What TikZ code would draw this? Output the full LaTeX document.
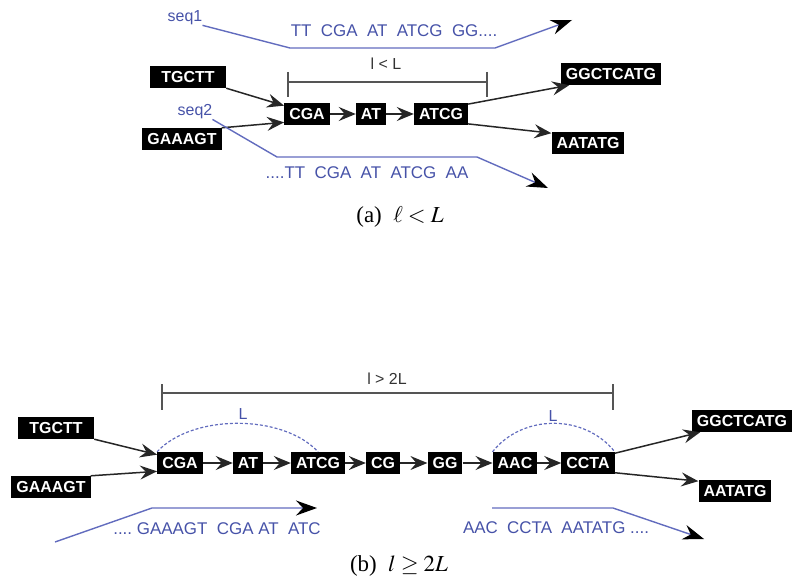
\documentclass[tikz,border=0pt]{standalone}
\usepackage{mathptmx}
\usepackage[no-math]{fontspec}
\setmainfont{Liberation Serif}
\newfontfamily\arialfont{Liberation Sans}
\usetikzlibrary{arrows.meta,calc}
\definecolor{seqtext}{RGB}{70,82,168}
\definecolor{seqline}{RGB}{98,108,190}
\definecolor{bracketgray}{RGB}{85,85,85}
\tikzset{
  kmer/.style={fill=black,text=white,font=\arialfont\bfseries\fontsize{16}{16}\selectfont,
    inner xsep=5bp,inner ysep=0pt,minimum height=22bp},
  link/.style={draw=black!85,line width=1.5bp,-{Stealth[length=17bp,width=14bp,inset=6bp]}},
  readline/.style={draw=seqline,line width=1.4bp,-{Stealth[length=21bp,width=15bp,inset=7bp,color=black]}},
  readtext/.style={text=seqtext,font=\arialfont\fontsize{17}{17}\selectfont,inner sep=0pt},
  seqlabel/.style={text=seqtext,font=\arialfont\fontsize{16}{16}\selectfont,inner sep=0pt},
  span/.style={draw=bracketgray,line width=1.5bp},
  spantext/.style={text=black!80,font=\arialfont\fontsize{16}{16}\selectfont,inner sep=0pt},
  kspan/.style={draw=seqline,line width=1.2bp,dash pattern=on 3bp off 2bp},
  klabel/.style={text=seqtext,font=\arialfont\fontsize{16}{16}\selectfont,inner sep=0pt},
  caption/.style={font=\fontsize{23}{23}\selectfont,inner sep=0pt},
}
\begin{document}
\begin{tikzpicture}[x=1bp,y=-1bp]
\useasboundingbox (0,0) rectangle (793,587);

% ---------- (a) path shorter than the read length ----------
\node[kmer,minimum width=76bp] (tg1) at (188,77) {TGCTT};
\node[kmer] (ga1) at (182,139) {GAAAGT};
\node[kmer] (cga1) at (307,114) {CGA};
\node[kmer] (at1) at (371,114) {AT};
\node[kmer] (atcg1) at (441,114) {ATCG};
\node[kmer] (gg1) at (611,74) {GGCTCATG};
\node[kmer] (aat1) at (588,143) {AATATG};

\draw[link] (tg1.south east) -- (cga1.160);
\draw[link] (ga1.north east) -- (cga1.200);
\draw[link] (cga1) -- (at1);
\draw[link] (at1) -- (atcg1);
\draw[link] (atcg1.20) -- (gg1.195);
\draw[link] (atcg1.-20) -- (aat1.165);

% length bracket
\coordinate (ba1) at (288,82);
\coordinate (ba2) at (487,82);
\draw[span] (ba1) -- (ba2);
\draw[span] (ba1) ++(0,-10) -- ++(0,25);
\draw[span] (ba2) ++(0,-10) -- ++(0,25);
\node[spantext] (la) at (386,64) {l < L};

% reads
\node[seqlabel] (s1) at (185,18) {seq1};
\coordinate (s1a) at (290,48);
\coordinate (s1b) at (495,48);
\coordinate (s1e) at (572,20);
\draw[readline] (s1.south east) -- (s1a) -- (s1b) -- (s1e);
\node[readtext] (r1) at (394,31) {TT\ \ CGA\ \ AT\ \ ATCG\ \ GG....};

\node[seqlabel] (s2) at (195,112) {seq2};
\coordinate (s2a) at (277,157);
\coordinate (s2b) at (477,157);
\coordinate (s2e) at (548,188);
\draw[readline] (s2.south east) -- (s2a) -- (s2b) -- (s2e);
\node[readtext] (r2) at (367,173) {....TT\ \ CGA\ \ AT\ \ ATCG\ \ AA};

\node[caption] (capa) at (400,217) {(a)\ \ $\ell < L$};

% ---------- (b) path at least twice the read length ----------
\node[kmer,minimum width=76bp] (tg2) at (56,428) {TGCTT};
\node[kmer] (ga2) at (51,487) {GAAAGT};
\node[kmer] (cga2) at (180,463) {CGA};
\node[kmer] (at2) at (248,463) {AT};
\node[kmer] (atcg2) at (318,463) {ATCG};
\node[kmer] (cg2) at (383,463) {CG};
\node[kmer] (gg2) at (445,463) {GG};
\node[kmer] (aac2) at (515,463) {AAC};
\node[kmer] (ccta2) at (588,463) {CCTA};
\node[kmer] (ggc2) at (742,421) {GGCTCATG};
\node[kmer] (aat2) at (735,491) {AATATG};

\draw[link] (tg2.south east) -- (cga2.160);
\draw[link] (ga2.north east) -- (cga2.200);
\draw[link] (cga2) -- (at2);
\draw[link] (at2) -- (atcg2);
\draw[link] (atcg2) -- (cg2);
\draw[link] (cg2) -- (gg2);
\draw[link] (gg2) -- (aac2);
\draw[link] (aac2) -- (ccta2);
\draw[link] (ccta2.20) -- (ggc2.195);
\draw[link] (ccta2.-20) -- (aat2.165);

% length bracket
\coordinate (bb1) at (162,393);
\coordinate (bb2) at (613,393);
\draw[span] (bb1) -- (bb2);
\draw[span] (bb1) ++(0,-9) -- ++(0,26);
\draw[span] (bb2) ++(0,-9) -- ++(0,26);
\node[spantext] (lb) at (387,379) {l > 2L};

% read-length arcs
\draw[kspan] (cga2.north west) .. controls ($(cga2.north west)+(35,-38)$) and ($(atcg2.north)+(-35,-38)$) .. (atcg2.north);
\node[klabel] (L1) at (243,414) {L};
\draw[kspan] (aac2.north west) .. controls ($(aac2.north west)+(30,-38)$) and ($(ccta2.north east)+(-30,-38)$) .. (ccta2.north east);
\node[klabel] (L2) at (553,416) {L};

% reads
\coordinate (r3s) at (55,542);
\coordinate (r3k) at (152,508);
\coordinate (r3e) at (317,508);
\draw[readline] (r3s) -- (r3k) -- (r3e);
\node[readtext] (r3) at (217,529) {....\ GAAAGT\ \ CGA AT\ \ ATC};

\coordinate (r4s) at (492,508);
\coordinate (r4k) at (613,508);
\coordinate (r4e) at (704,539);
\draw[readline] (r4s) -- (r4k) -- (r4e);
\node[readtext] (r4) at (556,528) {AAC\ \ CCTA\ \ AATATG ....};

\node[caption] (capb) at (399,566) {(b)\ \ $l \geq 2L$};
\end{tikzpicture}
\end{document}
